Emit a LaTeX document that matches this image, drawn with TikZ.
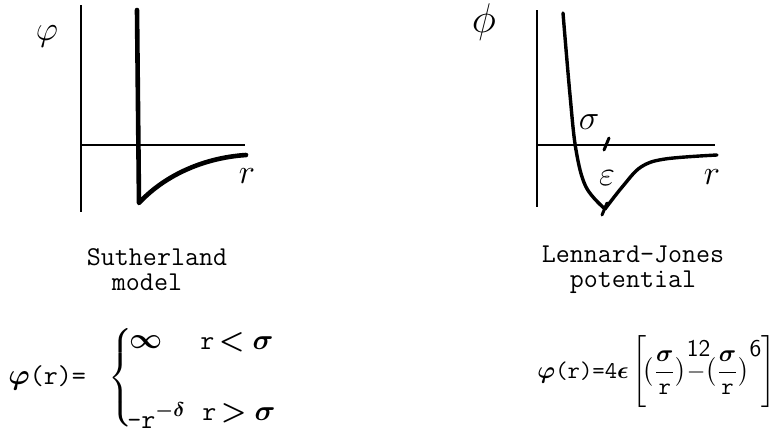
\documentclass[tikz,border=0pt]{standalone}
\usepackage{amsmath,amssymb}
\usepackage{bm}
\usetikzlibrary{calc}
\tikzset{
  axisline/.style={line width=1.4pt},
  curveline/.style={line width=2pt,line join=round,line cap=round},
  handlabel/.style={inner sep=0pt,font=\fontsize{17}{19}\selectfont},
  captiontext/.style={align=center,inner sep=0pt,font=\ttfamily\fontsize{13.6}{12.5}\selectfont},
  eqtext/.style={inner sep=0pt,anchor=west,font=\fontsize{13.6}{16}\selectfont}
}
\newcommand{\upsf}[1]{\raisebox{11pt}{\textsf{\fontsize{12}{12}\selectfont #1}}}
\newcommand{\sigr}{\bigl(\genfrac{}{}{}{0}{\bm{\sigma}}{\texttt{r}}\bigr)}
\begin{document}
\begin{tikzpicture}[x=0.5pt,y=-0.5pt]
    \useasboundingbox (0,0) rectangle (771,428);
    % Sutherland axes
    \draw[axisline] (81,5) -- (81,212);
    \draw[axisline] (81,145) -- (245,145);
    % hard wall and attractive tail
    \draw[curveline,line width=2.3pt] (137,10) -- (139,203)
      .. controls (162,178) and (200,158) .. (246,155);
    \node[handlabel] (phiA) at (47,36) {$\varphi$};
    \node[handlabel] (rA) at (247,176) {$r$};
    % Lennard-Jones axes
    \draw[axisline] (537,10) -- (537,207);
    \draw[axisline] (537,145) -- (715,145);
    % potential well
    \draw[curveline,line width=1.7pt] plot[smooth,tension=0.6] coordinates
      {(563,13) (570,95) (576,150) (586,187) (605,209)};
    \draw[curveline,line width=1.7pt] plot[smooth,tension=0.6] coordinates
      {(605,209) (623,186) (641,167) (665,159) (717,155)};
    % ticks at sigma and at the minimum
    \draw[curveline,line width=1.5pt] (604,150) -- (609,138);
    \draw[curveline,line width=1.5pt] (602,215) -- (607,203);
    \node[handlabel] (phiB) at (484,22) {\fontsize{22}{24}\selectfont$\phi$};
    \node[handlabel] (sigB) at (589,122) {$\sigma$};
    \node[handlabel] (epsB) at (607,178) {$\varepsilon$};
    \node[handlabel] (rB) at (712,177) {$r$};
    % captions
    \node[captiontext] (capA) at (157,270) {Sutherland\\\hspace*{-10pt}model};
    \node[captiontext] (capB) at (633,270) {Lennard-Jones\\potential};
    % Sutherland formula
    \node[eqtext] (eqA) at (8,378) {$\bm{\varphi}$\texttt{(r)=}};
    \node[eqtext] (braceA) at (108,380) {$\left\{\vrule height 23pt depth 23pt width 0pt\right.$};
    \node[eqtext] (infA) at (129,342) {$\bm{\infty}$};
    \node[eqtext] (ltA) at (200,342) {\texttt{r}\,$\bm{<}\bm{\sigma}$};
    \node[eqtext] (tailA) at (127,416) {\texttt{-r}\raisebox{6pt}{$\scriptstyle\bm{-\delta}$}};
    \node[eqtext] (gtA) at (202,413) {\texttt{r}\,$\bm{>}\bm{\sigma}$};
    % Lennard-Jones formula
    \node[eqtext,font=\fontsize{12}{14}\selectfont] (eqB) at (537,373)
      {$\bm{\varphi}$\texttt{(r)=4}$\bm{\epsilon}\left[\vrule height 16pt depth 16pt width 0pt
        \!\sigr\rlap{\upsf{12}}{-}\sigr\upsf{6}\right]$};
\end{tikzpicture}
\end{document}
